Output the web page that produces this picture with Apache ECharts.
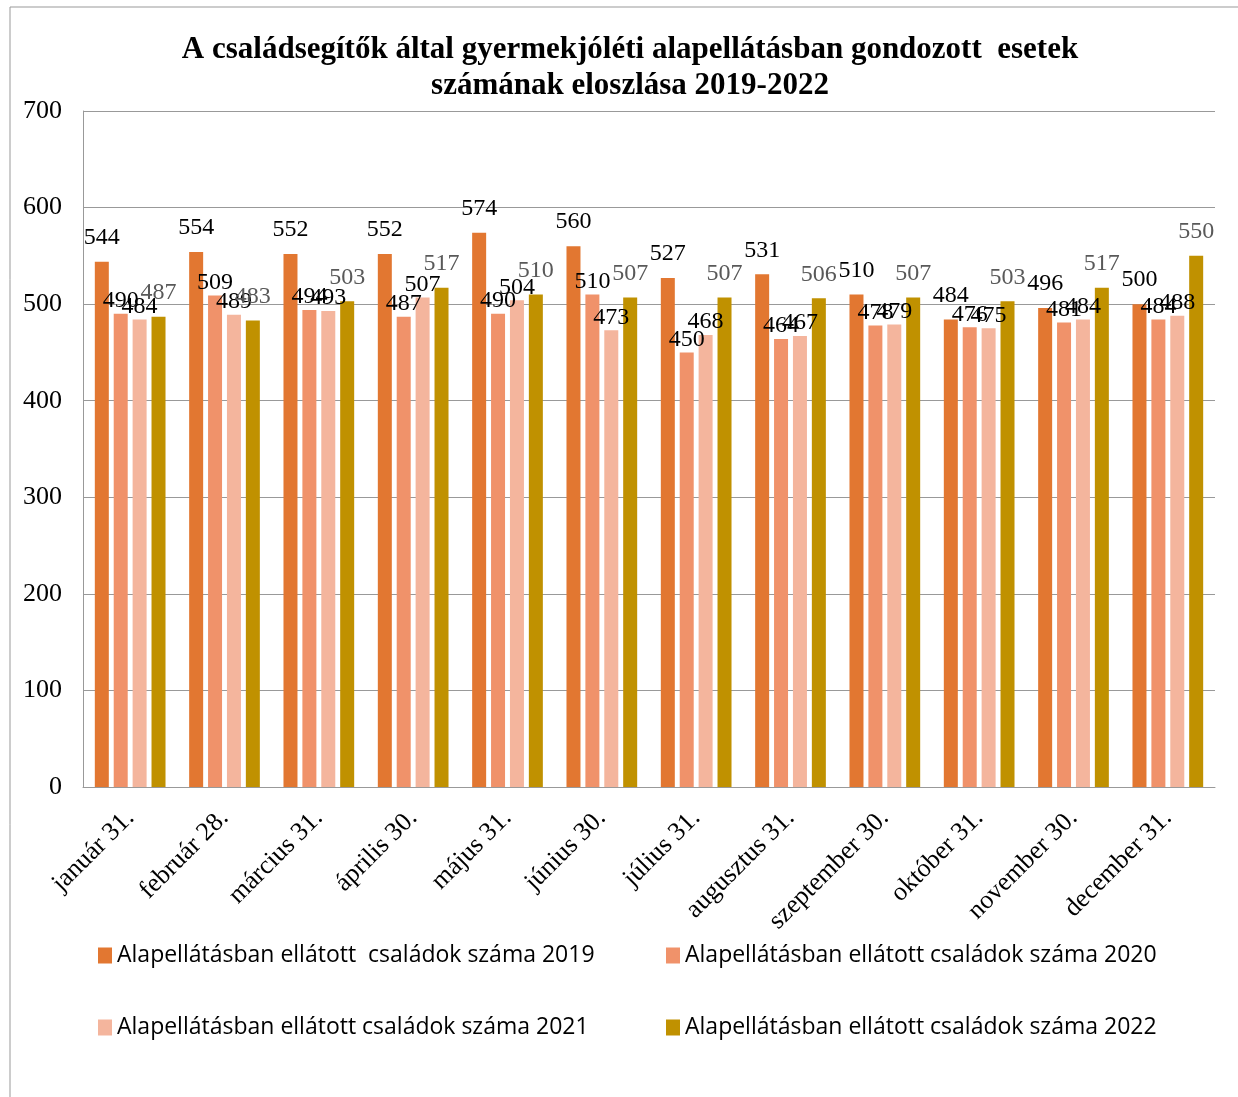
<!DOCTYPE html>
<html>
<head>
<meta charset="utf-8">
<script src="https://cdn.jsdelivr.net/npm/echarts@6/dist/echarts.min.js"></script>
<style>html,body{margin:0;padding:0;background:#fff}#c{width:1238px;height:1097px}</style>
</head>
<body>
<div id="c"></div>
<script>
const categories = ['január 31.', 'február 28.', 'március 31.', 'április 30.', 'május 31.', 'június 30.', 'július 31.', 'augusztus 31.', 'szeptember 30.', 'október 31.', 'november 30.', 'december 31.'];
const seriesNames = [
  'Alapellátásban ellátott  családok száma 2019',
  'Alapellátásban ellátott családok száma 2020',
  'Alapellátásban ellátott családok száma 2021',
  'Alapellátásban ellátott családok száma 2022'
];
const values2019 = [544, 554, 552, 552, 574, 560, 527, 531, 510, 484, 496, 500];
const values2020 = [490, 509, 494, 487, 490, 510, 450, 464, 478, 476, 481, 484];
const values2021 = [484, 489, 493, 507, 504, 473, 468, 467, 479, 475, 484, 488];
const values2022 = [487, 483, 503, 517, 510, 507, 507, 506, 507, 503, 517, 550];
const yTicks = [0, 100, 200, 300, 400, 500, 600, 700];

const colors = ['#E27731', '#F0926A', '#F4B59D', '#C09100'];
const serif = 'Liberation Serif';
const sans = 'Open Sans';

const labelBase = { show: true, position: 'top', fontFamily: serif, fontSize: 24, color: '#000' };
const labelStyles = [
  Object.assign({}, labelBase, { distance: 12 }),
  Object.assign({}, labelBase, { distance: 1 }),
  Object.assign({}, labelBase, { distance: 1, offset: [0, 8] }),
  Object.assign({}, labelBase, { distance: 12, color: '#595959' })
];
const allValues = [values2019, values2020, values2021, values2022];

const chart = echarts.init(document.getElementById('c'));
const legendPos = [[93, 939], [661, 939], [93, 1011], [661, 1011]];
chart.setOption({
  animation: false,
  color: colors,
  title: {
    text: 'A családsegítők által gyermekjóléti alapellátásban gondozott  esetek\nszámának eloszlása 2019-2022',
    left: 625, top: 27, textAlign: 'center',
    textStyle: { fontFamily: serif, fontWeight: 'bold', fontSize: 31, lineHeight: 36, color: '#000' }
  },
  legend: legendPos.map((p, i) => ({
    data: [seriesNames[i]],
    left: p[0], top: p[1],
    itemWidth: 14, itemHeight: 16, itemGap: 10,
    icon: 'rect',
    textStyle: { fontFamily: sans, fontSize: 23, color: '#000' }
  })),
  grid: { left: 83, right: 23, top: 111, bottom: 310, containLabel: false },
  xAxis: {
    type: 'category',
    data: categories,
    axisLine: { lineStyle: { color: '#999' } },
    axisTick: { show: false },
    axisLabel: { rotate: 45, fontFamily: serif, fontSize: 26, color: '#000', margin: 27, interval: 0 }
  },
  yAxis: {
    type: 'value',
    min: yTicks[0], max: yTicks[yTicks.length - 1], interval: 100,
    axisLine: { show: true, lineStyle: { color: '#999' } },
    axisTick: { show: false },
    splitLine: { lineStyle: { color: '#999' } },
    axisLabel: { fontFamily: serif, fontSize: 26, color: '#000', margin: 21 }
  },
  series: allValues.map((v, i) => ({
    name: seriesNames[i],
    type: 'bar',
    data: v,
    barWidth: 14,
    barGap: '35%',
    itemStyle: { color: colors[i] },
    label: labelStyles[i],
    labelLayout: { hideOverlap: false }
  })),
  graphic: [
    { type: 'line', shape: { x1: 10, y1: 7, x2: 10, y2: 1097 }, style: { stroke: '#999', lineWidth: 1 } },
    { type: 'line', shape: { x1: 10, y1: 7, x2: 1238, y2: 7 }, style: { stroke: '#999', lineWidth: 1 } }
  ]
});
</script>
</body>
</html>
